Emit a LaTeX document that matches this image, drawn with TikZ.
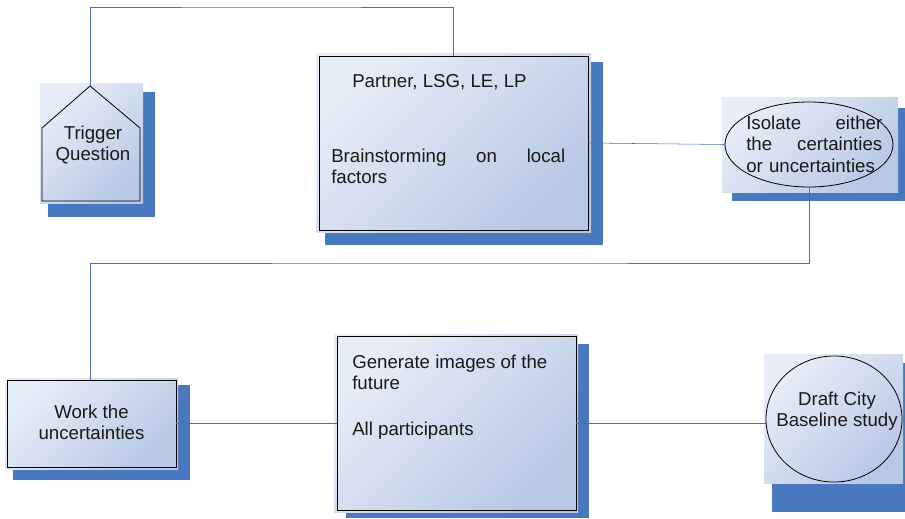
\documentclass[tikz,border=0pt]{standalone}
\usepackage{fontspec}
\setmainfont{Liberation Sans}
\usetikzlibrary{shapes.geometric}
\usetikzlibrary{positioning}

\definecolor{shadowblue}{RGB}{72,120,190}
\definecolor{linkblue}{RGB}{70,110,185}
\definecolor{panellight}{RGB}{232,238,248}
\definecolor{paneldark}{RGB}{184,200,228}

\tikzset{
  panel/.style={top color=panellight,bottom color=paneldark,shading angle=45,draw=none},
  outline/.style={draw=black,semithick,inner sep=0pt},
  link/.style={draw=linkblue,thin},
  label/.style={font=\fontsize{14}{16}\selectfont,text=black!90,inner sep=0pt}
}

\begin{document}
\begin{tikzpicture}[x=0.75pt,y=-0.75pt]
\useasboundingbox (0,0) rectangle (905,518);
% shadows
\fill[shadowblue] (48,92) rectangle (155,217);
\fill[shadowblue] (325,62) rectangle (603,245);
\fill[shadowblue] (732,108) rectangle (905,201);
\fill[shadowblue] (13,385) rectangle (190,480);
\fill[shadowblue] (346,344) rectangle (589,518);
\fill[shadowblue] (772,363) rectangle (905,512);
% panels
\shade[panel] (40,83) rectangle (143,203);
\shade[panel] (316,53) rectangle (591,232);
\shade[panel] (722,97) rectangle (898,192);
\shade[panel] (5,378) rectangle (178,469);
\shade[panel] (334,334) rectangle (578,512);
\shade[panel] (764,354) rectangle (903,483);

% trigger
\draw[semithick] (42,201) -- (42,128) -- (90,86) -- (140,128) -- (140,201) -- cycle;
\coordinate (trigtop) at (90,86);
\node[label,align=center] (trig) at (93,145) {Trigger\\Question};

% brainstorming
\node[outline,rectangle,minimum width=201.75pt,minimum height=130.5pt] (brain) at (453.5,143) {};
\node[label,anchor=west] (partners) at (352,82) {Partner, LSG, LE, LP};
\node[label,anchor=west,text width=175.5pt,align=left] (braintext) at (331,166) {Brainstorming\hfill on\hfill local\\factors};

% isolate
\node[outline,ellipse,minimum width=126pt,minimum height=63.75pt] (iso) at (809,144.5) {};
\node[label,anchor=west,text width=102pt,align=left] (isotext) at (746,144) {Isolate\hfill either\\the\hfill certainties\\or uncertainties};

% work
\node[outline,rectangle,minimum width=126.75pt,minimum height=65.25pt] (work) at (91.5,423.5) {};
\node[label,align=center] (worktext) at (91.5,422) {Work the\\uncertainties};

% generate
\node[outline,rectangle,minimum width=179.25pt,minimum height=130.5pt] (gen) at (456.5,423) {};
\node[label,anchor=west,align=left] (gentext) at (352,372.5) {Generate images of the\\future};
\node[label,anchor=west] (gennote) at (352,431) {All participants};

% draft
\node[outline,ellipse,minimum width=102pt,minimum height=94.5pt] (draft) at (834,419) {};
\node[label,align=center] (drafttext) at (837,411) {Draft City\\Baseline study};

% connectors
\draw[link] (trigtop) |- (271,7) -| (brain.north);
\draw[link] (brain.east) -- (iso.west);
\draw[link] (iso.south) |- (450,263) -| (work.north -| trigtop);
\draw[link] (work.east) -- (work.east -| gen.west);
\draw[link] (gen.east) -- (gen.east -| draft.west);

\end{tikzpicture}
\end{document}
